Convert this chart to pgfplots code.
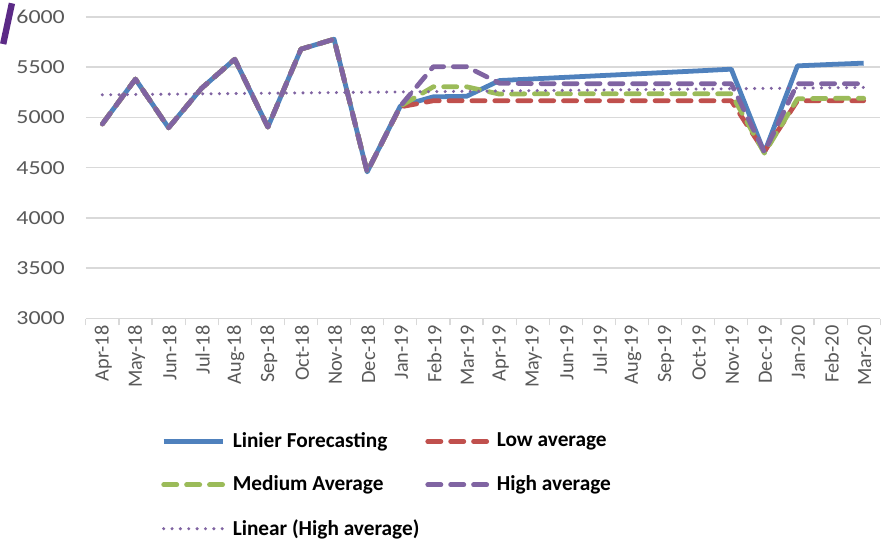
\documentclass[border=0pt]{standalone}
\usepackage{fontspec}
\setmainfont{Carlito}
\newfontfamily\wideticks[FakeStretch=1.2]{Carlito}
\usepackage{pgfplots}
\pgfplotsset{compat=1.18}
\usepackage{pgfplotstable}

\definecolor{cblue}{HTML}{4F81BD}
\definecolor{cred}{HTML}{C0504D}
\definecolor{cgreen}{HTML}{9BBB59}
\definecolor{cpurple}{HTML}{8064A2}
\definecolor{cgrid}{HTML}{D9D9D9}
\definecolor{ctext}{HTML}{595959}
\definecolor{carc}{HTML}{5B2A86}

% idx: 0 = Apr-18 ... 23 = Mar-20
\pgfplotstableread{
idx linier low medium high
0  4935 4935 4935 4935
1  5381 5381 5381 5381
2  4897 4897 4897 4897
3  5291 5291 5291 5291
4  5579 5579 5579 5579
5  4904 4904 4904 4904
6  5679 5679 5679 5679
7  5778 5778 5778 5778
8  4458 4458 4458 4458
9  5112 5105 5112 5112
10 5205 5166 5305 5505
11 5210 5166 5305 5505
12 5367 5166 5232 5340
13 5383 5166 5235 5336
14 5399 5166 5235 5336
15 5415 5166 5235 5336
16 5431 5166 5235 5336
17 5447 5166 5235 5336
18 5463 5166 5235 5336
19 5480 5166 5235 5336
20 4650 4660 4645 4655
21 5513 5166 5185 5336
22 5527 5166 5190 5336
23 5540 5166 5190 5336
}\datatable

\begin{document}
\begin{tikzpicture}
\begin{axis}[
    scale only axis,
    width=399pt, height=151.5pt,
    xmin=-0.5, xmax=23.5,
    ymin=3000, ymax=6000,
    ytick={3000,3500,...,6000},
    xtick={0,...,23},
    xticklabels={Apr-18,May-18,Jun-18,Jul-18,Aug-18,Sep-18,Oct-18,Nov-18,Dec-18,Jan-19,Feb-19,Mar-19,Apr-19,May-19,Jun-19,Jul-19,Aug-19,Sep-19,Oct-19,Nov-19,Dec-19,Jan-20,Feb-20,Mar-20},
    minor xtick={-0.5,0.5,...,23.5},
    major tick length=0pt,
    minor tick length=3.5pt,
    tick align=outside,
    minor tick style={cgrid, line width=0.6pt},
    axis x line*=bottom,
    axis y line*=left,
    x axis line style={cgrid, line width=0.8pt, -},
    y axis line style={draw=none},
    ymajorgrids,
    grid style={cgrid, line width=0.8pt},
    /pgf/number format/assume math mode=true,
    /pgf/number format/1000 sep={},
    ticklabel style={text=ctext},
    yticklabel style={font=\wideticks\fontsize{10}{12}\selectfont, xshift=-7pt},
    xticklabel style={font=\fontsize{10.2}{12}\selectfont, rotate=90, anchor=east, yshift=-0.5pt},
    clip=false,
    legend columns=2,
    legend cell align=left,
    legend image code/.code={\draw[#1] (0pt,0pt) -- (30pt,0pt); \path (31.5pt,0pt);},
    legend style={draw=none, at={(0.087,-0.35)}, anchor=north west,
        font=\bfseries\fontsize{10.7}{13}\selectfont,
        row sep=8.8pt,
        /tikz/every even column/.append style={column sep=1pt},
        nodes={inner sep=2pt}},
]
\addplot[cblue, line width=2.4pt, line join=round] table[x=idx, y=linier] {\datatable};
\addlegendentry{Linier Forecasting}
\addplot[cred, line width=2.4pt, line cap=round, line join=round, dash pattern=on 6.6pt off 4.9pt] table[x=idx, y=low] {\datatable};
\addlegendentry{Low average}
\addplot[cgreen, line width=2.4pt, line cap=round, line join=round, dash pattern=on 6.6pt off 4.9pt] table[x=idx, y=medium] {\datatable};
\addlegendentry{Medium Average}
\addplot[cpurple, line width=2.4pt, line cap=round, line join=round, dash pattern=on 6.6pt off 4.9pt] table[x=idx, y=high] {\datatable};
\addlegendentry{High average}
\addplot[cpurple, line width=1.7pt, line cap=round, dash pattern=on 0pt off 4.2pt] coordinates {(0,5225) (23,5298)};
\addlegendentry{Linear (High average)}
% bounding box and corner decoration
\path (rel axis cs:-0.104,1.056) (rel axis cs:1,-0.733);
\draw[carc, line width=3.2pt] (rel axis cs:-0.104,0.91) .. controls (rel axis cs:-0.099,0.98) .. (rel axis cs:-0.093,1.045);
\end{axis}
\end{tikzpicture}
\end{document}
